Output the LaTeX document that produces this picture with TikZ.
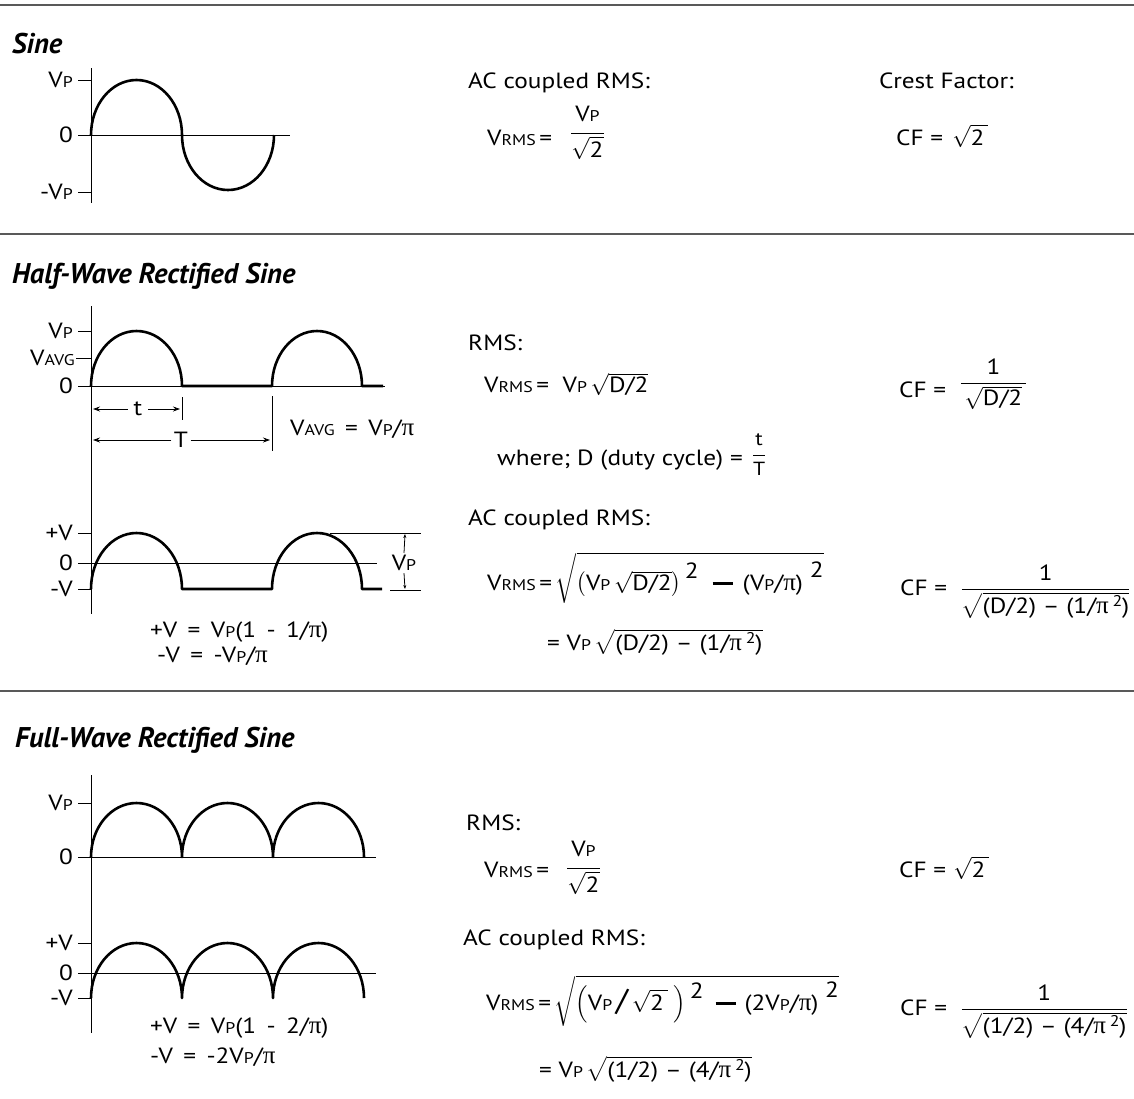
\RequirePackage{fix-cm}
\documentclass[tikz,border=0pt]{standalone}
\usepackage{amsmath}
\usepackage{fontspec}
\setmainfont{PT Sans}[FakeStretch=1.15]
\newfontfamily\titlefont{PT Sans}
\newfontfamily\pifont{Liberation Serif}
\usetikzlibrary{arrows.meta}
\newcommand\sbs[1]{{\fontsize{15.5}{15.5}\selectfont #1}}
\newcommand\VV[1]{V\sbs{#1}}
\newcommand\ppi{{\pifont\fontsize{25}{25}\selectfont π}}
\newcommand\bdash{\rule[5pt]{20pt}{2.6pt}}
\newcommand\sqtwo{{\fontsize{15.5}{15.5}\selectfont 2}}
\newcommand\ndash{\hspace{7pt}–\hspace{7pt}}
\newcommand\wsp{\ \,}
\tikzset{
  sep/.style={draw=black!65, line width=1.6pt},
  axis/.style={line width=1pt},
  wave/.style={line width=2.6pt, line join=round},
  dimline/.style={line width=0.8pt},
  dimarrow/.style={line width=0.8pt, -{Stealth[length=7pt,width=5pt]}},
  smallarrow/.style={line width=0.8pt, -{Stealth[length=4pt,width=3pt]}},
  txt/.style={inner sep=0pt, anchor=base west, font=\fontsize{22}{26}\selectfont},
  lbl/.style={inner sep=0pt, anchor=east, font=\fontsize{22}{26}\selectfont},
  dimlbl/.style={inner sep=3pt, anchor=center, font=\fontsize{22}{26}\selectfont},
  ttl/.style={inner sep=0pt, anchor=base west, font=\titlefont\fontsize{28.5}{32}\selectfont\bfseries\itshape},
}
\begin{document}
\begin{tikzpicture}[x=1pt,y=-1pt]
\useasboundingbox (0,0) rectangle (1134,1098);
\fill[white] (0,0) rectangle (1134,1098);

% separators
\draw[sep] (0,5) -- (1134,5);
\draw[sep] (0,234) -- (1134,234);
\draw[sep] (0,691) -- (1134,691);

% ---------------- Sine ----------------
\node[ttl] (t-sine) at (12,53) {Sine};
\draw[axis] (91,68) -- (91,203);
\draw[axis] (78,135) -- (290,135);
\draw[axis] (78,80) -- (91,80);
\draw[axis] (78,192) -- (91,192);
\node[lbl] (s-vp) at (73,80) {\VV{P}};
\node[lbl] (s-0) at (73,135) {0};
\node[lbl] (s-mvp) at (73,192) {-\VV{P}};
\draw[wave] (91,135) arc[start angle=180,end angle=0,x radius=45.5pt,y radius=55pt]
                    arc[start angle=180,end angle=360,x radius=46pt,y radius=55pt];

\node[txt] (s-ac) at (468,88) {AC coupled RMS:};
\node[txt] (s-vrms) at (487,145) {\VV{RMS}\,=\hspace{18pt}\raisebox{6pt}{$\dfrac{\text{\VV{P}}\rule[-9pt]{0pt}{9pt}}{\rule{0pt}{19pt}\sqrt{\text{2}}}$}};
\node[txt] (s-crest) at (879,88) {Crest Factor:};
\node[txt] (s-cf) at (896,145) {CF =\hspace{9pt}$\sqrt{\text{2\,}}$};

% ---------------- Half-Wave ----------------
\node[ttl] (t-half) at (12,283) {Half-Wave Rectified Sine};
\draw[axis] (91,306) -- (91,614);
% graph 1
\draw[axis] (78,386) -- (385,386);
\draw[axis] (78,331) -- (91,331);
\draw[axis] (76,358) -- (91,358);
\node[lbl] (h-vp) at (73,331) {\VV{P}};
\node[lbl] (h-vavg) at (75,358) {\VV{AVG}};
\node[lbl] (h-0) at (73,386) {0};
\draw[wave] (91,386) arc[start angle=180,end angle=0,x radius=45.5pt,y radius=55pt]
  -- (272,386) arc[start angle=180,end angle=0,x radius=45pt,y radius=55pt] -- (383,386);
% t and T dimensions
\draw[axis] (182,397) -- (182,420);
\draw[axis] (272,396) -- (272,451);
\node[dimlbl, inner sep=6pt] (h-t) at (138,409) {t};
\node[dimlbl, inner sep=2.5pt] (h-T) at (181,440) {T};
\draw[dimarrow] (h-t.west) -- (93,409);
\draw[dimarrow] (h-t.east) -- (180,409);
\draw[dimarrow] (h-T.west) -- (93,440);
\draw[dimarrow] (h-T.east) -- (270,440);
\node[txt] (h-vavgeq) at (290,435) {\VV{AVG}\wsp=\wsp\VV{P}/\ppi};
% graph 2
\draw[axis] (78,563) -- (377,563);
\draw[axis] (78,533) -- (91,533);
\draw[axis] (78,589) -- (91,589);
\node[lbl] (h-pv) at (73,533) {+V};
\node[lbl] (h-02) at (73,563) {0};
\node[lbl] (h-mv) at (73,589) {-V};
\draw[wave] (91,589) arc[start angle=180,end angle=0,x radius=45.5pt,y radius=56pt]
  -- (272,589) arc[start angle=180,end angle=0,x radius=45pt,y radius=56pt] -- (382,589);
\draw[dimline] (330,533) -- (421,533);
\draw[dimline] (390,590) -- (421,590);
\node[dimlbl, inner sep=2pt] (h-vpd) at (404,563) {\VV{P}};
\draw[smallarrow] (h-vpd.north) -- (405,534);
\draw[smallarrow] (h-vpd.south) -- (405,589);
\node[txt] (h-peq) at (150,637) {+V\wsp=\wsp\VV{P}(1\wsp-\wsp1/\ppi)};
\node[txt] (h-meq) at (157,662) {-V\wsp=\wsp-\VV{P}/\ppi};

\node[txt] (h-rms) at (468,350) {RMS:};
\node[txt] (h-vrms) at (484,392) {\VV{RMS}\,=\ \ \VV{P}\,$\sqrt{\text{D/2}}$};
\node[txt] (h-cf) at (899,397) {CF =\ \ \raisebox{8pt}{$\dfrac{\text{1}}{\,\sqrt{\text{D/2}}\,}$}};
\node[txt] (h-where) at (497,465) {where; D (duty cycle) =\hspace{9pt}\raisebox{4.5pt}{$\dfrac{\text{\fontsize{19}{19}\selectfont t}}{\text{\fontsize{19}{19}\selectfont T}}$}};
\node[txt] (h-ac) at (468,525) {AC coupled RMS:};
\node[txt] (h-acv) at (487,590) {\VV{RMS}\,=\,$\sqrt{\left(\text{\VV{P}\,}\sqrt{\text{D/2}}\right)\text{\raisebox{12pt}{2}\hspace{14pt}\bdash\hspace{10pt}(\VV{P}/\ppi)\ \raisebox{13pt}{2}}}$};
\node[txt] (h-acv2) at (547,650) {=\ \VV{P}\,$\sqrt{\text{(D/2)\ndash(1/\ppi\,\raisebox{7pt}{\sqtwo})}}$};
\node[txt] (h-cf2) at (900,595) {CF =\ \ $\dfrac{\text{1}}{\sqrt{\text{(D/2) – (1/\ppi\,\raisebox{7pt}{\sqtwo})}}}$};

% ---------------- Full-Wave ----------------
\node[ttl] (t-full) at (15,747) {Full-Wave Rectified Sine};
\draw[axis] (91,775) -- (91,1033);
% graph 1
\draw[axis] (78,857) -- (376,857);
\draw[axis] (78,803) -- (91,803);
\node[lbl] (f-vp) at (73,803) {\VV{P}};
\node[lbl] (f-0) at (73,857) {0};
\draw[wave] (91,857) arc[start angle=180,end angle=0,x radius=45.5pt,y radius=54pt]
  arc[start angle=180,end angle=0,x radius=45.5pt,y radius=54pt]
  arc[start angle=180,end angle=0,x radius=45.5pt,y radius=54pt];
% graph 2
\draw[axis] (78,973) -- (376,973);
\draw[axis] (78,943) -- (91,943);
\draw[axis] (78,998) -- (91,998);
\node[lbl] (f-pv) at (73,943) {+V};
\node[lbl] (f-02) at (73,973) {0};
\node[lbl] (f-mv) at (73,998) {-V};
\draw[wave] (91,998) arc[start angle=180,end angle=0,x radius=45.5pt,y radius=55pt]
  arc[start angle=180,end angle=0,x radius=45.5pt,y radius=55pt]
  arc[start angle=180,end angle=0,x radius=45.5pt,y radius=55pt];
\node[txt] (f-peq) at (150,1033) {+V\wsp=\wsp\VV{P}(1\wsp-\wsp2/\ppi)};
\node[txt] (f-meq) at (150,1063) {-V\wsp=\wsp-2\VV{P}/\ppi};

\node[txt] (f-rms) at (466,830) {RMS:};
\node[txt] (f-vrms) at (484,877) {\VV{RMS}\,=\hspace{17pt}\raisebox{3pt}{$\dfrac{\text{\VV{P}}\rule[-9pt]{0pt}{9pt}}{\rule{0pt}{19pt}\sqrt{\text{2}}}$}};
\node[txt] (f-cf) at (899,877) {CF =\hspace{7pt}$\sqrt{\text{2\,}}$};
\node[txt] (f-ac) at (463,945) {AC coupled RMS:};
\node[txt] (f-acv) at (486,1010) {\VV{RMS}\,=\,$\sqrt{\left(\text{\VV{P}\,{\fontsize{30}{30}\selectfont /}\,}\sqrt{\text{2\,}}\;\right)\text{\raisebox{12pt}{2}\hspace{12pt}\bdash\hspace{9pt}(2\VV{P}/\ppi)\ \raisebox{13pt}{2}}}$};
\node[txt] (f-acv2) at (539,1077) {=\ \VV{P}\,$\sqrt{\text{(1/2)\ndash(4/\ppi\,\raisebox{7pt}{\sqtwo})}}$};
\node[txt] (f-cf2) at (900,1015) {CF =\ \ $\dfrac{\text{1}}{\sqrt{\text{(1/2) – (4/\ppi\,\raisebox{7pt}{\sqtwo})}}}$};
\end{tikzpicture}
\end{document}
